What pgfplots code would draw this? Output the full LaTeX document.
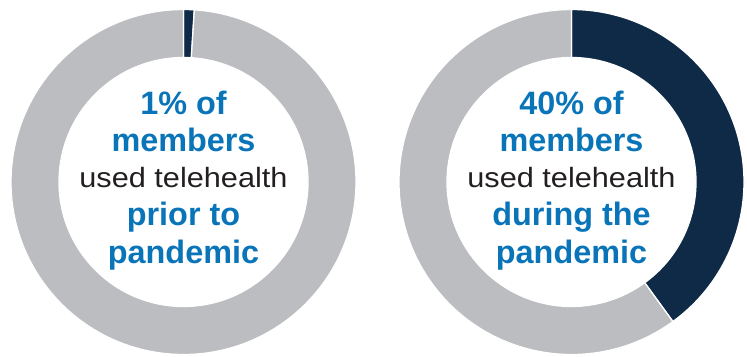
\documentclass[border=0pt]{standalone}
\usepackage{pgfplots}
\pgfplotsset{compat=1.18}
\usepackage{pgfplotstable}
\usepackage{fontspec}
\setmainfont{Liberation Sans}
\newfontfamily\regfont[FakeStretch=1.1]{Liberation Sans}
\definecolor{navy}{HTML}{0E2A47}
\definecolor{ring}{HTML}{BCBDC0}
\definecolor{txtblue}{HTML}{0A74B9}
\definecolor{txtblack}{HTML}{231F20}

\pgfplotstableread{
cx cy share
183.5 174 1
571.5 174 40
}\donuts

\pgfplotstablegetelem{0}{share}\of\donuts
\pgfmathsetmacro\endA{90-3.6*\pgfplotsretval}
\pgfplotstablegetelem{1}{share}\of\donuts
\pgfmathsetmacro\endB{90-3.6*\pgfplotsretval}

\newcommand\donut[3]{%
  \fill[navy,draw=white,line width=1.3bp,shift={(axis cs:#1,#2)}]
    (90:172.5bp) arc[start angle=90,end angle=#3,radius=172.5bp]
    -- (#3:124.5bp) arc[start angle=#3,end angle=90,radius=124.5bp] -- cycle;
  \fill[ring,draw=white,line width=1.3bp,shift={(axis cs:#1,#2)}]
    (#3:172.5bp) arc[start angle=#3,end angle=-270,radius=172.5bp]
    -- (-270:124.5bp) arc[start angle=-270,end angle=#3,radius=124.5bp] -- cycle;
}

\tikzset{
  bl/.style={anchor=base,text=txtblue,inner sep=0pt,font=\bfseries\fontsize{32.5}{32.5}\selectfont},
  rg/.style={anchor=base,text=txtblack,inner sep=0pt,font=\regfont\fontsize{28}{28}\selectfont}
}

\begin{document}
\begin{tikzpicture}
\begin{axis}[
  x=1bp, y=1bp,
  xmin=0, xmax=747, ymin=0, ymax=356,
  hide axis, clip=false
]
\donut{183.5}{174}{\endA}
\donut{571.5}{174}{\endB}

\node[bl] at (axis cs:183.5,241.7) {1\% of};
\node[bl] at (axis cs:183.5,204.3) {members};
\node[rg] at (axis cs:183.5,168.7) {used telehealth};
\node[bl] at (axis cs:183.5,130.3) {prior to};
\node[bl] at (axis cs:183.5,92.7) {pandemic};

\node[bl] at (axis cs:571.5,241.7) {40\% of};
\node[bl] at (axis cs:571.5,204.3) {members};
\node[rg] at (axis cs:571.5,168.7) {used telehealth};
\node[bl] at (axis cs:571.5,130.3) {during the};
\node[bl] at (axis cs:571.5,92.7) {pandemic};
\end{axis}
\pgfresetboundingbox
\path[use as bounding box] (current axis.south west) rectangle (current axis.north east);
\end{tikzpicture}
\end{document}
